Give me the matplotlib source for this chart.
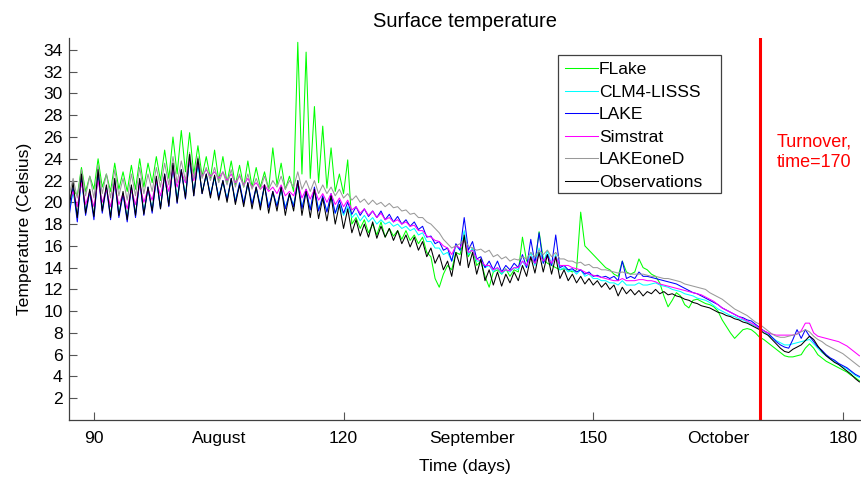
import numpy as np
import matplotlib.pyplot as plt
from matplotlib.patches import Rectangle

plt.rcParams['font.family'] = ['Liberation Sans', 'DejaVu Sans']

# half-day samples, day 87.0 .. 182.0
days = np.arange(87.0, 182.01, 0.5)

flake = [
    20.2, 21.2, 20.6, 23.2, 21.0, 22.4, 21.2, 24.0, 21.4, 22.6,
    21.0, 23.6, 21.2, 22.8, 21.0, 23.4, 21.2, 24.0, 21.4, 23.6,
    21.8, 24.2, 22.0, 24.8, 22.2, 26.0, 22.6, 26.6, 22.8, 26.4,
    22.6, 25.2, 22.4, 24.2, 22.2, 24.8, 22.0, 24.2, 21.8, 23.8,
    21.6, 23.4, 21.4, 23.8, 21.4, 23.2, 21.4, 22.8, 21.2, 25.0,
    21.6, 23.6, 21.2, 22.4, 21.0, 34.7, 22.6, 33.8, 22.2, 28.8,
    21.8, 27.0, 21.3, 25.0, 21.0, 22.6, 20.8, 23.9, 18.0, 18.6,
    17.6, 18.4, 17.2, 18.0, 17.0, 18.2, 16.8, 17.6, 16.9, 17.4,
    16.6, 17.4, 16.5, 17.0, 16.2, 16.8, 15.4, 15.0, 13.0, 12.2,
    13.4, 14.2, 13.8, 15.4, 15.2, 16.8, 15.0, 15.8, 14.2, 14.6,
    13.2, 12.2, 13.6, 13.8, 13.4, 13.9, 13.2, 13.8, 13.6, 16.8,
    14.6, 14.8, 14.4, 17.3, 14.8, 14.4, 14.2, 14.0, 13.8, 13.9,
    13.8, 13.6, 13.8, 19.1, 16.0, 15.6, 15.2, 14.8, 14.4, 14.0,
    13.8, 13.4, 13.2, 14.6, 13.6, 13.4, 13.6, 14.8, 14.0, 13.8,
    13.4, 13.2, 12.6, 11.4, 10.4, 11.0, 11.7, 11.4, 10.6, 10.3,
    11.0, 11.1, 10.9, 10.7, 10.6, 10.4, 10.0, 9.2, 8.6, 8.0,
    7.5, 7.9, 8.3, 8.4, 8.3, 8.0, 7.6, 7.4, 7.1, 6.8,
    6.5, 6.2, 5.9, 5.8, 5.8, 5.9, 6.0, 6.6, 7.0, 6.6,
    6.0, 5.7, 5.4, 5.2, 5.0, 4.8, 4.6, 4.4, 4.1, 3.9,
    3.6,
]

clm4 = [
    19.0, 21.0, 18.6, 22.0, 19.2, 21.0, 18.8, 22.6, 19.4, 21.4,
    18.8, 21.8, 19.0, 20.8, 18.6, 21.4, 19.0, 21.8, 19.2, 21.2,
    19.4, 22.0, 19.6, 22.4, 20.0, 23.2, 20.4, 22.8, 20.8, 23.8,
    21.0, 23.4, 21.0, 22.4, 20.8, 22.2, 20.6, 21.8, 20.4, 22.0,
    20.2, 21.6, 20.0, 21.6, 19.9, 21.2, 19.8, 21.4, 19.6, 20.8,
    19.8, 21.0, 19.6, 20.6, 19.8, 21.6, 19.6, 20.8, 19.4, 21.0,
    19.4, 20.4, 19.2, 20.4, 19.0, 19.8, 18.8, 19.6, 18.6, 19.0,
    18.3, 18.8, 18.2, 18.6, 18.0, 18.4, 18.0, 18.2, 17.8, 18.0,
    17.6, 17.8, 17.4, 17.6, 17.0, 17.2, 16.4, 16.4, 15.8, 15.8,
    15.2, 15.4, 14.6, 16.0, 15.6, 17.4, 15.2, 15.8, 14.6, 14.6,
    14.0, 14.2, 13.6, 14.0, 13.4, 13.8, 13.6, 14.0, 13.8, 14.6,
    14.0, 15.4, 14.2, 15.8, 14.4, 15.6, 14.2, 15.2, 13.8, 14.0,
    13.6, 13.8, 13.4, 13.8, 13.2, 13.4, 13.0, 13.0, 12.8, 12.8,
    12.6, 12.6, 12.4, 12.8, 12.4, 12.4, 12.4, 12.6, 12.4, 12.4,
    12.5, 12.6, 12.4, 12.3, 12.2, 12.0, 11.9, 11.8, 11.6, 11.5,
    11.4, 11.2, 11.1, 11.0, 10.8, 10.5, 10.2, 10.0, 9.8, 9.6,
    9.5, 9.3, 9.2, 9.0, 8.8, 8.6, 8.4, 8.2, 7.8, 7.6,
    7.3, 7.1, 6.9, 6.9, 7.0, 7.1, 7.2, 7.3, 7.4, 7.0,
    6.6, 6.2, 5.9, 5.6, 5.4, 5.1, 4.9, 4.7, 4.4, 4.1,
    3.9,
]

lake = [
    18.6, 21.4, 18.2, 22.4, 18.8, 21.0, 18.4, 22.8, 19.0, 21.4,
    18.4, 22.0, 18.6, 20.8, 18.2, 21.4, 18.6, 22.0, 18.8, 21.4,
    19.0, 22.2, 19.4, 22.6, 19.6, 23.4, 19.9, 23.0, 20.3, 24.2,
    20.6, 23.8, 20.8, 22.6, 20.6, 22.4, 20.4, 22.0, 20.2, 22.2,
    20.0, 21.8, 19.9, 21.8, 19.8, 21.4, 19.6, 21.6, 19.5, 21.0,
    19.6, 21.4, 19.4, 20.8, 19.6, 22.0, 19.4, 21.2, 19.3, 21.4,
    19.2, 20.6, 19.1, 20.8, 19.0, 20.2, 19.0, 20.0, 18.9, 19.6,
    18.8, 19.4, 18.7, 19.2, 18.6, 19.2, 18.4, 18.9, 18.2, 18.7,
    18.0, 18.4, 17.8, 18.2, 17.5, 17.8, 16.8, 16.9, 16.2, 16.4,
    15.6, 15.8, 14.6, 16.2, 15.6, 18.6, 15.6, 16.4, 14.8, 15.0,
    14.0, 14.6, 13.8, 14.6, 13.6, 14.2, 13.8, 14.4, 14.0, 15.2,
    14.0, 16.6, 14.4, 17.2, 14.4, 15.2, 14.2, 17.0, 14.0, 14.2,
    13.8, 13.9, 13.6, 13.8, 13.4, 13.6, 13.2, 13.3, 13.1, 13.2,
    13.0, 13.2, 12.8, 14.6, 13.0, 13.2, 13.0, 13.6, 13.2, 13.2,
    13.1, 13.0, 12.9, 12.8, 12.7, 12.6, 12.5, 12.3, 12.1, 11.9,
    11.7, 11.6, 11.4, 11.2, 11.0, 10.8, 10.6, 10.3, 10.1, 9.9,
    9.7, 9.5, 9.4, 9.2, 9.1, 8.8, 8.5, 8.2, 8.0, 7.6,
    7.2, 6.9, 6.7, 6.6, 7.4, 8.3, 7.5, 8.3, 7.7, 7.2,
    6.7, 6.4, 6.0, 5.7, 5.5, 5.2, 5.0, 4.8, 4.5, 4.2,
    4.0,
]

simstrat = [
    20.0, 21.0, 19.6, 21.8, 19.8, 21.0, 19.6, 22.0, 20.0, 21.2,
    19.6, 21.6, 19.8, 20.8, 19.4, 21.2, 19.8, 21.6, 20.0, 21.2,
    20.2, 22.0, 20.6, 22.4, 21.0, 23.0, 21.4, 22.8, 21.8, 23.8,
    22.0, 23.6, 22.4, 23.0, 22.4, 22.8, 22.2, 22.8, 22.0, 22.6,
    21.8, 22.4, 21.6, 22.2, 21.4, 21.8, 21.2, 21.6, 21.0, 21.4,
    20.8, 21.6, 20.6, 21.0, 20.6, 21.8, 20.4, 21.2, 20.3, 21.2,
    20.2, 20.8, 20.0, 20.8, 19.8, 20.4, 19.6, 20.2, 19.3, 19.6,
    19.0, 19.4, 18.8, 19.2, 18.6, 19.0, 18.4, 18.6, 18.2, 18.4,
    18.0, 18.2, 17.8, 17.9, 17.4, 17.4, 16.9, 16.8, 16.5, 16.4,
    16.0, 15.8, 15.2, 16.0, 15.8, 16.6, 15.4, 15.6, 14.8, 14.6,
    14.2, 14.2, 13.8, 14.0, 13.6, 13.8, 13.7, 14.0, 14.0, 14.6,
    14.2, 15.0, 14.4, 15.2, 14.6, 15.0, 14.4, 15.0, 14.2, 14.2,
    14.2, 14.0, 13.9, 13.8, 13.6, 13.4, 13.3, 13.2, 13.1, 13.0,
    12.9, 12.8, 12.8, 13.0, 12.8, 12.8, 12.8, 12.9, 12.9, 12.8,
    12.8, 12.7, 12.5, 12.4, 12.3, 12.2, 12.1, 12.0, 11.9, 11.8,
    11.7, 11.6, 11.5, 11.3, 11.1, 10.9, 10.6, 10.3, 10.1, 9.9,
    9.7, 9.5, 9.3, 9.1, 8.9, 8.7, 8.4, 8.2, 8.0, 7.9,
    7.8, 7.8, 7.8, 7.8, 7.8, 7.9, 8.2, 8.9, 8.9, 8.0,
    7.7, 7.6, 7.5, 7.4, 7.3, 7.2, 7.0, 6.8, 6.5, 6.2,
    5.9,
]

lakeoned = [
    20.6, 22.2, 20.4, 23.0, 20.6, 22.4, 20.4, 23.4, 20.8, 22.6,
    20.4, 23.0, 20.6, 22.2, 20.2, 22.6, 20.6, 23.2, 20.8, 22.6,
    21.0, 23.2, 21.4, 23.6, 21.6, 24.2, 21.8, 23.8, 22.0, 24.6,
    22.2, 24.2, 22.2, 23.2, 22.0, 23.2, 21.8, 22.8, 21.6, 23.0,
    21.4, 22.6, 21.4, 22.6, 21.2, 22.2, 21.2, 22.4, 21.2, 22.0,
    21.4, 22.4, 21.2, 22.0, 21.4, 22.8, 21.2, 22.0, 21.0, 22.0,
    20.8, 21.6, 20.8, 21.4, 20.6, 21.2, 20.4, 20.8, 20.2, 20.6,
    20.0, 20.3, 19.8, 20.2, 19.8, 20.0, 19.6, 19.9, 19.5, 19.6,
    19.2, 19.3, 18.9, 19.0, 18.6, 18.6, 18.2, 18.0, 17.6, 17.2,
    16.6, 16.2, 15.8, 16.0, 16.2, 16.6, 16.0, 15.8, 15.6, 15.7,
    15.4, 15.6, 15.0, 15.2, 14.8, 15.0, 14.6, 14.8, 14.7, 15.0,
    14.8, 15.4, 15.0, 15.6, 15.2, 15.6, 15.0, 15.4, 14.8, 14.8,
    14.6, 14.6, 14.4, 14.5, 14.2, 14.3, 14.0, 14.0, 13.8, 13.8,
    13.7, 13.6, 13.5, 13.6, 13.5, 13.4, 13.4, 13.4, 13.4, 13.3,
    13.2, 13.2, 13.1, 13.0, 13.0, 12.9, 12.8, 12.7, 12.5, 12.4,
    12.3, 12.2, 12.1, 12.0, 11.7, 11.5, 11.3, 11.1, 10.8, 10.5,
    10.2, 10.0, 9.8, 9.6, 9.3, 9.0, 8.8, 8.5, 8.2, 7.9,
    7.7, 7.6, 7.6, 7.7, 7.8, 7.9, 8.1, 8.3, 8.1, 7.7,
    7.4, 7.2, 6.9, 6.7, 6.5, 6.3, 6.1, 5.8, 5.5, 5.2,
    4.9,
]

observations = [
    19.5, 21.8, 18.6, 22.6, 19.0, 21.2, 18.7, 23.0, 19.2, 21.6,
    18.6, 22.2, 18.8, 21.0, 18.4, 21.6, 18.8, 22.2, 18.9, 21.4,
    19.2, 22.4, 19.4, 22.6, 19.7, 23.6, 20.0, 23.0, 20.4, 24.4,
    20.6, 24.0, 20.8, 22.6, 20.4, 22.5, 20.2, 22.0, 20.0, 22.2,
    19.8, 21.6, 19.6, 21.8, 19.4, 21.4, 19.3, 21.6, 19.0, 21.0,
    19.2, 21.4, 18.8, 20.8, 19.2, 22.0, 18.8, 21.0, 18.6, 21.2,
    18.5, 20.4, 18.3, 20.6, 18.0, 19.8, 17.6, 19.4, 17.2, 18.4,
    16.9, 18.0, 16.8, 18.2, 16.7, 17.8, 16.8, 17.6, 16.5, 17.4,
    16.2, 17.0, 15.9, 16.8, 15.6, 16.4, 15.0, 15.8, 14.4, 15.2,
    13.8, 14.6, 13.2, 15.4, 14.2, 17.0, 14.0, 15.4, 13.4, 14.8,
    12.8, 13.8, 12.4, 13.6, 12.3, 13.4, 12.6, 13.6, 12.8, 14.2,
    13.2, 15.0, 13.5, 15.4, 13.6, 15.2, 13.4, 15.0, 13.0, 13.8,
    12.8, 13.4, 12.6, 13.2, 12.5, 13.0, 12.4, 12.8, 12.2, 12.6,
    12.0, 12.4, 11.4, 12.2, 11.6, 12.0, 11.5, 11.9, 11.4, 11.8,
    11.6, 12.0, 11.6, 11.8, 11.5, 11.6, 11.4, 11.3, 11.1, 11.0,
    10.8, 10.7, 10.5, 10.4, 10.3, 10.1, 9.9, 9.8, 9.6, 9.5,
    9.3, 9.2, 9.0, 8.9, 8.7, 8.5, 8.3, 8.0, 7.8, 7.4,
    7.0, 6.6, 6.3, 6.2, 6.5, 6.7, 6.9, 7.3, 7.7, 7.4,
    6.8, 6.3, 5.9, 5.6, 5.3, 5.1, 4.8, 4.5, 4.2, 3.8,
    3.5,
]

series_names = ['FLake', 'CLM4-LISSS', 'LAKE', 'Simstrat', 'LAKEoneD', 'Observations']
series_colors = ['#00ff00', '#00ffff', '#0000ff', '#ff00ff', '#999999', '#000000']

month_labels = ['August', 'September', 'October']
month_days = [105, 135.5, 165]
day_ticks = [90, 120, 150, 180]
temp_ticks = list(range(2, 35, 2))

turnover_day = 170

fs = 12.6
W, H = 862, 483

fig = plt.figure(figsize=(W / 100, H / 100), dpi=100)
ax = fig.add_axes([0.080, 0.1304, 0.918, 0.791])

for name, vals, col in zip(series_names,
                           [flake, clm4, lake, simstrat, lakeoned, observations],
                           series_colors):
    ax.plot(days, vals, color=col, lw=0.75, label=name)

ax.axvline(turnover_day, color='red', lw=2.2)
ax.text(turnover_day + 2.1, 24.6, 'Turnover,\ntime=%d' % turnover_day,
        color='red', fontsize=13, va='center', ha='left', linespacing=1.2)

ax.set_xlim(87.0, 182.1)
ax.set_ylim(0, 35.1)

ax.set_xticks(day_ticks)
ax.set_xticks(month_days, labels=month_labels, minor=True)
ax.set_yticks(temp_ticks)
ax.tick_params(axis='both', which='both', direction='in', labelsize=fs,
               color='#555555')
ax.tick_params(axis='x', which='major', length=6, pad=8)
ax.tick_params(axis='x', which='minor', length=0, pad=8)
ax.tick_params(axis='y', length=6, pad=4.5)

for side in ['top', 'right']:
    ax.spines[side].set_visible(False)
for side in ['left', 'bottom']:
    ax.spines[side].set_color('#404040')
    ax.spines[side].set_linewidth(0.9)

ax.set_title('Surface temperature', fontsize=14.5, pad=8)
ax.set_xlabel('Time (days)', fontsize=fs, labelpad=9)
ax.set_ylabel('Temperature (Celsius)', fontsize=fs, labelpad=8)

# legend entries without frame, box drawn separately (wider right margin)
ax.legend(loc='upper left', bbox_to_anchor=(558 / W, 1 - 55 / H),
          bbox_transform=fig.transFigure, borderaxespad=0,
          fontsize=fs, frameon=False,
          handlelength=1.9, handletextpad=0.05, labelspacing=0.415,
          borderpad=0.4)
fig.patches.append(Rectangle((558 / W, 1 - 193 / H), 163 / W, 138 / H,
                             transform=fig.transFigure, fill=False,
                             edgecolor='#404040', lw=0.9, zorder=5))

fig.savefig('out.png', dpi=100)
